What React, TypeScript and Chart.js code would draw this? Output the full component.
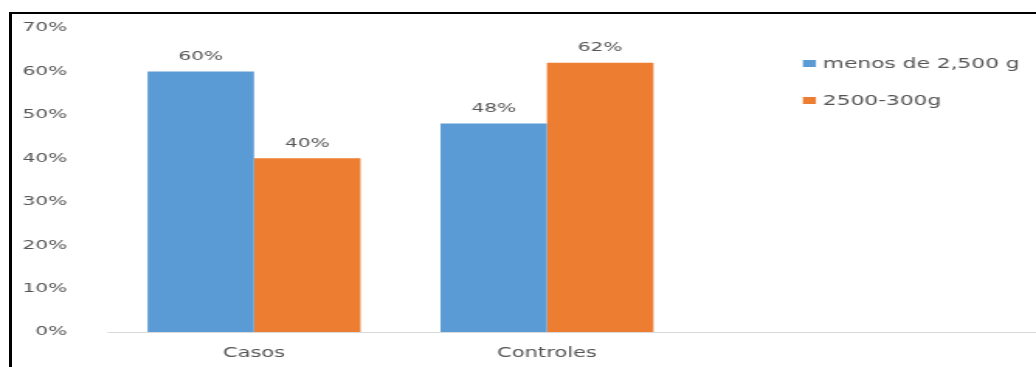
import React, { useEffect, useRef } from "react";
import { Chart, registerables } from "chart.js";

Chart.register(...registerables);

const categories = ["Casos", "Controles"];
const seriesNames = ["menos de 2,500 g", "2500-300g"];
const seriesLow = [60, 48];
const seriesMid = [40, 62];
const seriesColors = ["#5B9BD5", "#ED7D31"];
const yTicks = [0, 10, 20, 30, 40, 50, 60, 70];

const STRETCH = 1036 / 668;
const CW = 668;
const CH = 367;
const TEXT = "#555555";
const FONT = "'DejaVu Sans', Verdana, sans-serif";

const extrasPlugin = {
  id: "extras",
  beforeDatasetsDraw(chart: any) {
    const { ctx, chartArea, scales } = chart;
    const y = Math.round(scales.y.getPixelForValue(0)) + 0.5;
    ctx.save();
    ctx.strokeStyle = "#d9d9d9";
    ctx.lineWidth = 1;
    ctx.beginPath();
    ctx.moveTo(chartArea.left, y);
    ctx.lineTo(chart.width, y);
    ctx.stroke();
    ctx.restore();
  },
  afterDatasetsDraw(chart: any) {
    const { ctx } = chart;
    ctx.save();
    ctx.fillStyle = TEXT;
    ctx.font = `13px ${FONT}`;
    ctx.textAlign = "center";
    ctx.textBaseline = "middle";
    chart.data.datasets.forEach((ds: any, i: number) => {
      const meta = chart.getDatasetMeta(i);
      meta.data.forEach((el: any, j: number) => {
        const v = ds.data[j];
        if (v === null || v === undefined) return;
        ctx.fillText(`${v}%`, el.x, el.y - 15);
      });
    });
    // legend
    ctx.textAlign = "left";
    ctx.font = `14px ${FONT}`;
    seriesNames.forEach((name, i) => {
      const top = 60 + i * 37;
      ctx.fillStyle = seriesColors[i];
      ctx.fillRect(517.7, top, 8.4, 7);
      ctx.fillStyle = TEXT;
      ctx.fillText(name, 530.6, top + 4);
    });
    ctx.restore();
  },
};

export default function App() {
  const ref = useRef<HTMLCanvasElement | null>(null);
  useEffect(() => {
    document.body.style.margin = "0";
    if (!ref.current) return;
    const chart = new Chart(ref.current, {
      type: "bar",
      data: {
        labels: [...categories, ""],
        datasets: [
          {
            label: seriesNames[0],
            data: [...seriesLow, null],
            backgroundColor: seriesColors[0],
            categoryPercentage: 0.727,
            barPercentage: 1,
          },
          {
            label: seriesNames[1],
            data: [...seriesMid, null],
            backgroundColor: seriesColors[1],
            categoryPercentage: 0.727,
            barPercentage: 1,
          },
        ],
      },
      options: {
        animation: false,
        responsive: true,
        maintainAspectRatio: false,
        devicePixelRatio: 1,
        layout: { padding: { top: 28, right: 32, left: 0, bottom: 0 } },
        plugins: {
          legend: { display: false },
          tooltip: { enabled: false },
          title: { display: false },
        },
        scales: {
          x: {
            grid: { display: false },
            border: { display: false },
            ticks: {
              color: TEXT,
              font: { family: FONT, size: 13.5 },
              padding: 5,
              maxRotation: 0,
            },
            afterFit(scale: any) {
              scale.height = 35;
            },
          },
          y: {
            min: 0,
            max: 70,
            grid: { display: false },
            border: { display: false },
            afterBuildTicks(scale: any) {
              scale.ticks = yTicks.map((v) => ({ value: v }));
            },
            ticks: {
              color: TEXT,
              font: { family: FONT, size: 13 },
              padding: 18,
              callback: (v: any) => `${v}%`,
            },
            afterFit(scale: any) {
              scale.width = 69.35;
            },
          },
        },
      },
      plugins: [extrasPlugin],
    });
    return () => chart.destroy();
  }, []);

  return (
    <div
      style={{
        position: "relative",
        width: 1036,
        height: 367,
        overflow: "hidden",
        background: "#fff",
      }}
    >
      <div
        style={{
          position: "absolute",
          left: 0,
          top: 0,
          width: CW,
          height: CH,
          transform: `scaleX(${STRETCH})`,
          transformOrigin: "0 0",
        }}
      >
        <canvas ref={ref} />
      </div>
      <div
        style={{
          position: "absolute",
          left: 9,
          top: 12,
          width: 1027,
          height: 2,
          background: "#000",
        }}
      />
      <div
        style={{
          position: "absolute",
          left: 9,
          top: 12,
          width: 3,
          height: 355,
          background: "#000",
        }}
      />
    </div>
  );
}
